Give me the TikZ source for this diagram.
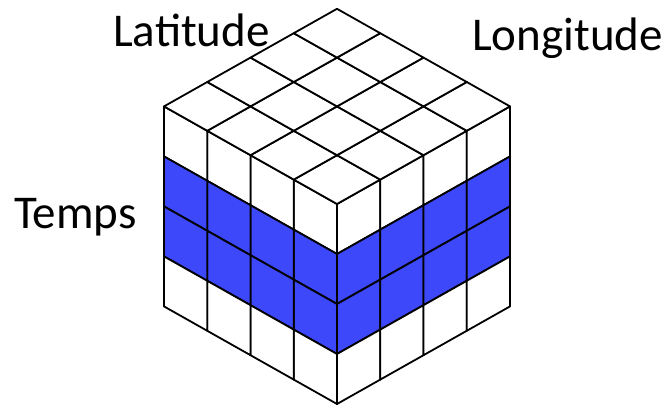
\documentclass[tikz,border=0pt]{standalone}
\usepackage{fontspec}
\setmainfont{Carlito}
\definecolor{cubeblue}{RGB}{60,72,250}
\tikzset{
  cell/.style={draw=black, line width=1.8pt, line join=round},
  lbl/.style={anchor=base west, inner sep=0pt, font=\fontsize{47}{50}\selectfont}
}
\begin{document}
\begin{tikzpicture}[x=1pt,y=-1pt]
\useasboundingbox (0,0) rectangle (664,407);
\def\ax{43.25}\def\ay{24.4}\def\dz{50}
% left face
\foreach \i in {0,...,3}{
  \foreach \j in {0,...,3}{
    \pgfmathsetmacro{\xo}{337-\ax*\i}
    \pgfmathsetmacro{\yo}{204-\ay*\i+\dz*\j}
    \ifnum\j=1 \def\fc{cubeblue}\else\ifnum\j=2 \def\fc{cubeblue}\else\def\fc{white}\fi\fi
    \draw[cell, fill=\fc] (\xo,\yo) -- ++(-\ax,-\ay) -- ++(0,\dz) -- ++(\ax,\ay) -- cycle;
  }
}
% right face
\foreach \i in {0,...,3}{
  \foreach \j in {0,...,3}{
    \pgfmathsetmacro{\xo}{337+\ax*\i}
    \pgfmathsetmacro{\yo}{204-\ay*\i+\dz*\j}
    \ifnum\j=1 \def\fc{cubeblue}\else\ifnum\j=2 \def\fc{cubeblue}\else\def\fc{white}\fi\fi
    \draw[cell, fill=\fc] (\xo,\yo) -- ++(\ax,-\ay) -- ++(0,\dz) -- ++(-\ax,\ay) -- cycle;
  }
}
% top face
\foreach \i in {0,...,3}{
  \foreach \k in {0,...,3}{
    \pgfmathsetmacro{\xo}{337-\ax*\i+\ax*\k}
    \pgfmathsetmacro{\yo}{204-\ay*\i-\ay*\k}
    \draw[cell, fill=white] (\xo,\yo) -- ++(-\ax,-\ay) -- ++(\ax,-\ay) -- ++(\ax,\ay) -- cycle;
  }
}
\node[lbl] (lat) at (113,46.7) {Latitude};
\node[lbl] (lon) at (472,50) {Longitude};
\node[lbl] (tem) at (14,228.3) {Temps};
\end{tikzpicture}
\end{document}
